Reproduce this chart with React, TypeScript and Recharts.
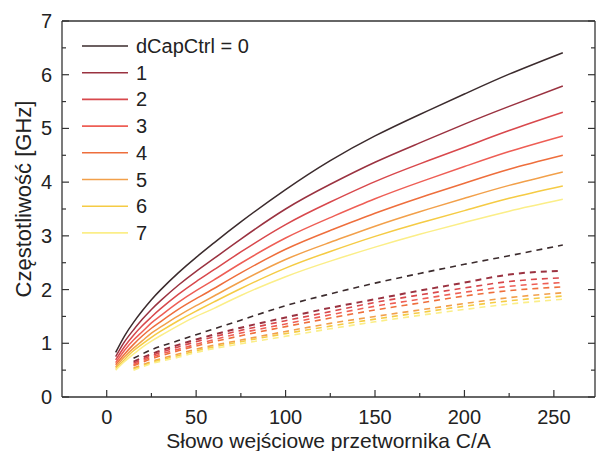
import { LineChart, Line, XAxis, YAxis, Legend } from "recharts"

// nazwy serii (legenda) i kolory – od ciemnego do jasnożółtego
const SERIES_NAMES = ["dCapCtrl = 0", "1", "2", "3", "4", "5", "6", "7"]
const COLORS = [
  "#3b2b2d",
  "#9a3240",
  "#d8484c",
  "#ee5e55",
  "#ee6e3c",
  "#f2a04a",
  "#f5cb44",
  "#fbee88",
]

// słowo wejściowe C/A – linie ciągłe
const CODES_SOLID = [5, 10, 15, 20, 25, 30, 40, 50, 60, 75, 100, 125, 150, 175, 200, 225, 255]
const F0 = [0.83, 1.14, 1.39, 1.61, 1.81, 1.99, 2.31, 2.6, 2.87, 3.26, 3.86, 4.4, 4.86, 5.26, 5.64, 6.01, 6.41]
const F1 = [0.75, 1.03, 1.25, 1.45, 1.63, 1.79, 2.08, 2.34, 2.58, 2.94, 3.5, 3.96, 4.37, 4.73, 5.08, 5.41, 5.79]
const F2 = [0.69, 0.94, 1.15, 1.33, 1.49, 1.64, 1.91, 2.15, 2.37, 2.7, 3.21, 3.63, 4.01, 4.34, 4.65, 4.96, 5.3]
const F3 = [0.64, 0.87, 1.06, 1.22, 1.38, 1.51, 1.76, 1.98, 2.18, 2.49, 2.96, 3.34, 3.69, 4.0, 4.29, 4.57, 4.86]
const F4 = [0.6, 0.8, 0.98, 1.14, 1.28, 1.4, 1.63, 1.83, 2.02, 2.31, 2.75, 3.1, 3.42, 3.71, 3.98, 4.24, 4.5]
const F5 = [0.56, 0.75, 0.91, 1.05, 1.19, 1.3, 1.51, 1.7, 1.88, 2.15, 2.56, 2.88, 3.18, 3.45, 3.7, 3.94, 4.19]
const F6 = [0.53, 0.7, 0.86, 0.99, 1.11, 1.22, 1.42, 1.6, 1.77, 2.02, 2.4, 2.71, 2.99, 3.24, 3.47, 3.7, 3.93]
const F7 = [0.5, 0.66, 0.8, 0.93, 1.04, 1.14, 1.33, 1.5, 1.65, 1.89, 2.24, 2.53, 2.79, 3.03, 3.25, 3.46, 3.68]

// linie przerywane
const CODES_DASHED = [15, 25, 40, 50, 75, 100, 125, 150, 175, 200, 225, 255]
const D0 = [0.72, 0.88, 1.05, 1.16, 1.43, 1.7, 1.92, 2.12, 2.3, 2.47, 2.63, 2.83]
const D1 = [0.66, 0.8, 0.97, 1.07, 1.29, 1.48, 1.66, 1.82, 1.98, 2.13, 2.28, 2.35]
const D2 = [0.63, 0.77, 0.93, 1.03, 1.24, 1.42, 1.59, 1.76, 1.9, 2.03, 2.15, 2.22]
const D3 = [0.6, 0.74, 0.89, 0.98, 1.19, 1.36, 1.53, 1.69, 1.82, 1.95, 2.06, 2.13]
const D4 = [0.58, 0.71, 0.86, 0.95, 1.14, 1.31, 1.47, 1.62, 1.75, 1.88, 1.98, 2.05]
const D5 = [0.54, 0.66, 0.8, 0.89, 1.06, 1.22, 1.37, 1.5, 1.62, 1.74, 1.85, 1.94]
const D6 = [0.52, 0.64, 0.77, 0.86, 1.03, 1.18, 1.32, 1.45, 1.57, 1.69, 1.79, 1.88]
const D7 = [0.5, 0.62, 0.74, 0.83, 0.99, 1.13, 1.27, 1.4, 1.52, 1.63, 1.73, 1.82]

const SOLID = [F0, F1, F2, F3, F4, F5, F6, F7]
const DASHED = [D0, D1, D2, D3, D4, D5, D6, D7]

const X_TICKS = [0, 25, 50, 75, 100, 125, 150, 175, 200, 225, 250]
const Y_TICKS = [0, 0.5, 1, 1.5, 2, 2.5, 3, 3.5, 4, 4.5, 5, 5.5, 6, 6.5, 7]

const AXIS = "#333"
const TEXT = "#222"
const FONT = "'Liberation Sans', Arial, sans-serif"

const toRows = (xs: number[], ys: number[]) => xs.map((x, i) => ({ x, y: ys[i] }))

// ticki skierowane do środka, jak w Originie
const BottomTick = ({ x, y, payload }: any) => {
  const major = payload.value % 50 === 0
  return (
    <g>
      <line x1={x} x2={x} y1={y} y2={y - (major ? 7 : 4)} stroke={AXIS} strokeWidth={1.2} />
      {major && (
        <text x={x} y={y + 27} textAnchor="middle" fontSize={20} fill={TEXT} fontFamily={FONT}>
          {payload.value}
        </text>
      )}
    </g>
  )
}

const TopTick = ({ x, y, payload }: any) => {
  const major = payload.value % 50 === 0
  return <line x1={x} x2={x} y1={y} y2={y + (major ? 7 : 4)} stroke={AXIS} strokeWidth={1.2} />
}

const LeftTick = ({ x, y, payload }: any) => {
  const major = Number.isInteger(payload.value)
  return (
    <g>
      <line x1={x} x2={x + (major ? 7 : 4)} y1={y} y2={y} stroke={AXIS} strokeWidth={1.2} />
      {major && (
        <text x={x - 10} y={y + 7} textAnchor="end" fontSize={20} fill={TEXT} fontFamily={FONT}>
          {payload.value}
        </text>
      )}
    </g>
  )
}

const RightTick = ({ x, y, payload }: any) => {
  const major = Number.isInteger(payload.value)
  return <line x1={x} x2={x - (major ? 7 : 4)} y1={y} y2={y} stroke={AXIS} strokeWidth={1.2} />
}

const YTitle = () => (
  <text
    transform="translate(23,199) rotate(-90)"
    textAnchor="middle"
    dominantBaseline="central"
    fontSize={22}
    fill={TEXT}
    fontFamily={FONT}
  >
    Częstotliwość [GHz]
  </text>
)

const LegendBox = () => (
  <svg width={260} height={250} style={{ display: "block" }}>
    {SERIES_NAMES.map((name, i) => {
      const cy = 46 + i * 26.7
      return (
        <g key={name}>
          <line x1={82} x2={128} y1={cy} y2={cy} stroke={COLORS[i]} strokeWidth={1.6} />
          <text x={136} y={cy + 7} fontSize={20} fill={TEXT} fontFamily={FONT}>
            {name}
          </text>
        </g>
      )
    })}
  </svg>
)

export default function App() {
  return (
    <div style={{ position: "absolute", left: 0, top: 0, background: "#fff" }}>
      <LineChart
        width={597}
        height={451}
        margin={{ top: 20, right: 1, bottom: 0, left: 0 }}
        style={{ fontFamily: FONT }}
      >
        <XAxis
          xAxisId="b"
          dataKey="x"
          type="number"
          domain={[-25, 273]}
          allowDataOverflow
          ticks={X_TICKS}
          interval={0}
          height={54}
          tickSize={0}
          tickMargin={0}
          tickLine={false}
          tick={BottomTick}
          axisLine={{ stroke: AXIS, strokeWidth: 1.3 }}
          label={{
            value: "Słowo wejściowe przetwornika C/A",
            position: "insideBottom",
            offset: 3,
            fontSize: 21,
            fill: TEXT,
          }}
        />
        <XAxis
          xAxisId="t"
          orientation="top"
          type="number"
          domain={[-25, 273]}
          allowDataOverflow
          ticks={X_TICKS}
          interval={0}
          height={1}
          tickSize={0}
          tickMargin={0}
          tickLine={false}
          tick={TopTick}
          axisLine={{ stroke: AXIS, strokeWidth: 1.3 }}
        />
        <YAxis
          yAxisId="l"
          type="number"
          domain={[0, 7]}
          allowDataOverflow
          ticks={Y_TICKS}
          interval={0}
          width={62}
          tickSize={0}
          tickMargin={0}
          tickLine={false}
          tick={LeftTick}
          axisLine={{ stroke: AXIS, strokeWidth: 1.3 }}
          label={{ content: YTitle }}
        />
        <YAxis
          yAxisId="r"
          orientation="right"
          type="number"
          domain={[0, 7]}
          allowDataOverflow
          ticks={Y_TICKS}
          interval={0}
          width={1}
          tickSize={0}
          tickMargin={0}
          tickLine={false}
          tick={RightTick}
          axisLine={{ stroke: AXIS, strokeWidth: 1.3 }}
        />
        {DASHED.map((vals, i) => (
          <Line
            key={`d${i}`}
            xAxisId="b"
            yAxisId="l"
            data={toRows(CODES_DASHED, vals)}
            dataKey="y"
            type="monotone"
            stroke={COLORS[i]}
            strokeWidth={i === 1 ? 2 : 1.6}
            strokeDasharray="6 5"
            dot={false}
            isAnimationActive={false}
            legendType="none"
          />
        ))}
        {SOLID.map((vals, i) => (
          <Line
            key={`s${i}`}
            xAxisId="b"
            yAxisId="l"
            data={toRows(CODES_SOLID, vals)}
            dataKey="y"
            name={SERIES_NAMES[i]}
            type="natural"
            stroke={COLORS[i]}
            strokeWidth={1.5}
            dot={false}
            isAnimationActive={false}
          />
        ))}
        <Legend
          layout="vertical"
          align="center"
          verticalAlign="middle"
          wrapperStyle={{ left: 0, top: 0, width: 260, height: 250 }}
          content={LegendBox}
        />
      </LineChart>
    </div>
  )
}
